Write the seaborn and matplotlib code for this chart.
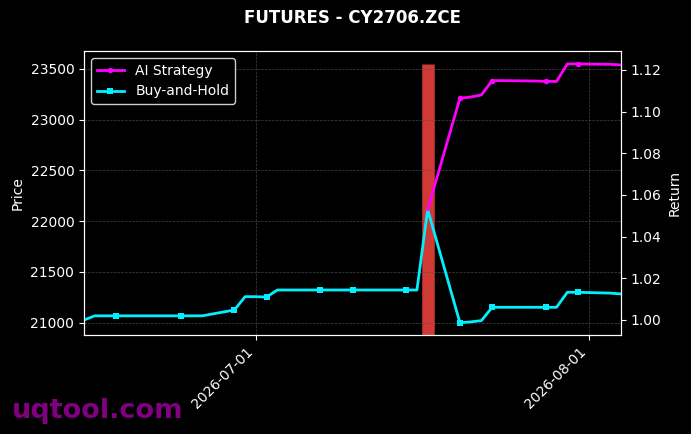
import matplotlib
matplotlib.use("Agg")
import matplotlib.pyplot as plt
import matplotlib.dates as mdates
import seaborn as sns
import pandas as pd
import numpy as np

dates = ["2026-06-15", "2026-06-16", "2026-06-17", "2026-06-18", "2026-06-22",
         "2026-06-23", "2026-06-24", "2026-06-25", "2026-06-26", "2026-06-29",
         "2026-06-30", "2026-07-01", "2026-07-02", "2026-07-03", "2026-07-06",
         "2026-07-07", "2026-07-08", "2026-07-09", "2026-07-10", "2026-07-13",
         "2026-07-14", "2026-07-15", "2026-07-16", "2026-07-17", "2026-07-20",
         "2026-07-21", "2026-07-22", "2026-07-23", "2026-07-24", "2026-07-27",
         "2026-07-28", "2026-07-29", "2026-07-30", "2026-07-31", "2026-08-03",
         "2026-08-04"]

buy_hold = [1.000, 1.002, 1.002, 1.002, 1.002,
            1.002, 1.002, 1.002, 1.002, 1.0048,
            1.0112, 1.0112, 1.011, 1.0144, 1.0144,
            1.0144, 1.0144, 1.0144, 1.0144, 1.0144,
            1.0144, 1.0144, 1.0144, 1.053, 0.9987,
            0.9991, 0.9997, 1.0061, 1.0061, 1.0061,
            1.0061, 1.0061, 1.0133, 1.0133, 1.0129,
            1.0125]

ai_dates = dates[23:]
ai_strategy = [1.053, 1.1064, 1.107, 1.108, 1.1149, 1.1149, 1.1147,
               1.1145, 1.1145, 1.1229, 1.1229, 1.1227, 1.1224]

signal_dates = ["2026-07-17"]
signal_top = [23545]

price_limits = [20879, 23677]
return_limits = [0.9928, 1.1291]

plt.style.use("dark_background")
plt.rcParams["font.family"] = ["DejaVu Sans"]

fig = plt.figure(figsize=(6.91, 4.34), dpi=100)
ax = fig.add_axes([84/691, 1-335/434, (621-84)/691, (335-51)/434])
ax2 = ax.twinx()

bh_df = pd.DataFrame({"date": pd.to_datetime(dates), "ret": buy_hold})
ai_df = pd.DataFrame({"date": pd.to_datetime(ai_dates), "ret": ai_strategy})

ax.set_ylim(*price_limits)
ax.vlines(pd.to_datetime(signal_dates), price_limits[0] - 500, signal_top,
          color="#e8403a", alpha=0.9, linewidth=9, zorder=1)

sns.lineplot(data=bh_df, x="date", y="ret", ax=ax2, color="#00f0ff", linewidth=2,
             marker="s", markersize=4, markeredgewidth=0,
             markevery=slice(3, None, 3), label="Buy-and-Hold")
sns.lineplot(data=ai_df, x="date", y="ret", ax=ax2, color="#ff00ff", linewidth=2,
             marker="o", markersize=4, markeredgewidth=0,
             markevery=slice(1, None, 3), label="AI Strategy")

ax2.set_ylim(*return_limits)
ax.set_xlim(pd.to_datetime(dates[0]), pd.to_datetime(dates[-1]))

ax.xaxis.set_major_locator(mdates.MonthLocator())
ax.xaxis.set_major_formatter(mdates.DateFormatter("%Y-%m-%d"))
for lbl in ax.get_xticklabels():
    lbl.set_rotation(45)
    lbl.set_ha("right")

ax.grid(True, linestyle="--", linewidth=0.5, color="#555555", alpha=0.8)
ax2.grid(False)
ax.set_ylabel("Price", color="white")
ax2.set_ylabel("Return", color="white")
ax.set_xlabel("")
ax2.set_xlabel("")

handles, labels = ax2.get_legend_handles_labels()
order = [labels.index("AI Strategy"), labels.index("Buy-and-Hold")]
ax2.legend([handles[i] for i in order], [labels[i] for i in order],
           loc="upper left", facecolor="black", edgecolor="#cccccc", framealpha=1)

ax.set_title("FUTURES - CY2706.ZCE", fontsize=12, fontweight="bold", color="white", pad=20)

fig.text(12/691, 1-418/434, "uqtool.com", color="#800080", fontsize=19.5,
         fontweight="bold", ha="left", va="baseline")

fig.savefig("out.png", dpi=100, facecolor="black")
